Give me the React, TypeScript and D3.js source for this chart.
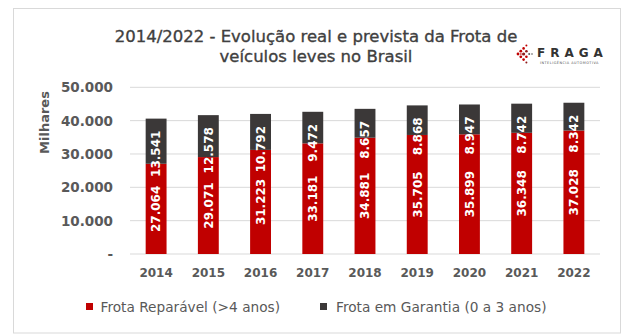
import React from 'react';
import * as d3 from 'd3';

const categories = ['2014', '2015', '2016', '2017', '2018', '2019', '2020', '2021', '2022'];
const reparavel = [27064, 29071, 31223, 33181, 34881, 35705, 35899, 36348, 37028];
const garantia = [13541, 12578, 10792, 9472, 8657, 8868, 8947, 8742, 8342];
const yTicks = [0, 10000, 20000, 30000, 40000, 50000];
const seriesNames = ['Frota Reparável (>4 anos)', 'Frota em Garantia (0 a 3 anos)'];
const titleLines = ['2014/2022 - Evolução real e prevista da Frota de', 'veículos leves no Brasil'];

const RED = '#C00000';
const DARK = '#3B3838';
const TXT = '#595959';
const FONT = '"DejaVu Sans", sans-serif';

const locale = d3.formatLocale({ decimal: ',', thousands: '.', grouping: [3], currency: ['', ''] });
const fmt = locale.format(',d');

const logoDots = [
  [0, 0, 1.4, RED], [2.8, -2.8, 1.4, RED], [2.8, 2.8, 1.4, RED], [5.6, -5.6, 1.3, RED], [5.6, 5.6, 1.3, RED],
  [5.6, 0, 1.6, '#8e1b1b'], [8.4, -2.8, 1.3, '#8e1b1b'], [8.4, 2.8, 1.3, RED], [2.8, 0, 1.0, '#d65a5a'],
  [8.4, -8.4, 1.0, RED], [8.4, 8.4, 1.0, '#8e1b1b'], [11.2, 0, 1.0, '#555'], [14, 0, 0.8, '#555'],
];

export default function App() {
  const W = 632, H = 336;
  const x = d3.scaleBand<string>().domain(categories).range([130, 600]).paddingInner(0.6).paddingOuter(0.3);
  const y = d3.scaleLinear().domain([0, 50000]).range([254, 87.3]);
  const bw = x.bandwidth();

  return (
    <svg width={W} height={H} style={{ position: 'absolute', left: 0, top: 0, background: '#fff' }} fontFamily={FONT}>
      <rect x={13.5} y={8.5} width={607} height={324.5} fill="#fff" stroke="#D9D9D9" strokeWidth={1} />
      {titleLines.map((t, i) => (
        <text key={i} x={316} y={42 + i * 19.5} textAnchor="middle" fontSize={16.5} fill="#404040"
          stroke="#404040" strokeWidth={0.35}>{t}</text>
      ))}
      {/* logo */}
      <g transform="translate(518,54)">
        {logoDots.map((d, i) => (
          <circle key={i} cx={d[0] as number} cy={d[1] as number} r={d[2] as number} fill={d[3] as string} />
        ))}
      </g>
      <text x={537} y={57} fontSize={12} fontWeight="bold" fill="#333" letterSpacing={5}>FRAGA</text>
      <text x={540} y={64} fontSize={3.4} fill="#555" letterSpacing={0.5}>INTELIGÊNCIA AUTOMOTIVA</text>

      {/* grid */}
      {yTicks.map(t => (
        <g key={t}>
          <line x1={130} x2={600} y1={y(t)} y2={y(t)} stroke="#D9D9D9" strokeWidth={1} />
          <text x={113} y={y(t)} dy="0.36em" textAnchor="end" fontSize={13.5} fill={TXT} fontWeight="bold">
            {t === 0 ? '-' : fmt(t)}
          </text>
        </g>
      ))}
      <text transform={`translate(49,122.5) rotate(-90)`} textAnchor="middle" fontSize={13} fill={TXT} fontWeight="bold">Milhares</text>

      {/* bars */}
      {categories.map((c, i) => {
        const x0 = x(c)!;
        const cx = x0 + bw / 2;
        const r = reparavel[i];
        const g = garantia[i];
        const yr = y(r);
        const yt = y(r + g);
        return (
          <g key={c}>
            <rect x={x0} y={yr} width={bw} height={y(0) - yr} fill={RED} />
            <rect x={x0} y={yt} width={bw} height={yr - yt} fill={DARK} />
            <text transform={`translate(${cx},${(y(0) + yr) / 2}) rotate(-90)`} textAnchor="middle" dy="0.36em"
              fontSize={12} fontWeight="bold" fill="#fff">{fmt(r)}</text>
            <text transform={`translate(${cx},${yt + 12}) rotate(-90)`} textAnchor="end" dy="0.36em"
              fontSize={12} fontWeight="bold" fill="#fff">{fmt(g)}</text>
            <text x={cx} y={277} textAnchor="middle" fontSize={12} fontWeight="bold" fill={TXT}>{c}</text>
          </g>
        );
      })}

      {/* legend */}
      <rect x={86} y={303} width={7} height={7} fill={RED} />
      <text x={100.5} y={312} fontSize={13.7} fill={TXT}>{seriesNames[0]}</text>
      <rect x={320} y={303} width={7} height={7} fill={DARK} />
      <text x={336} y={312} fontSize={13.7} fill={TXT}>{seriesNames[1]}</text>
    </svg>
  );
}
